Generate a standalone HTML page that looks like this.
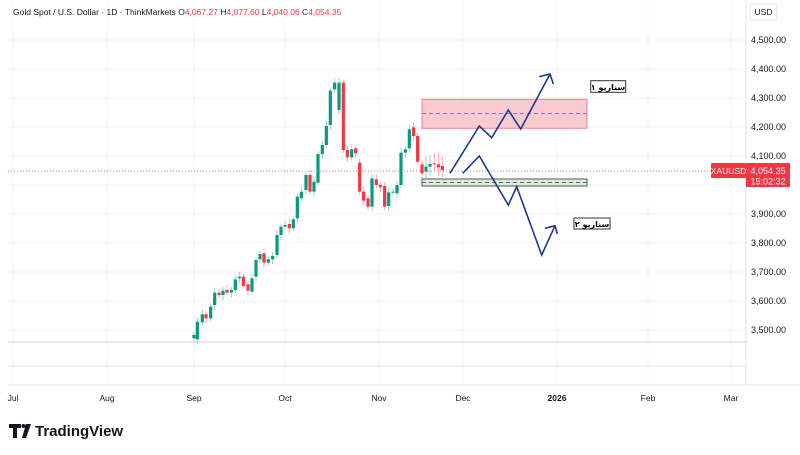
<!DOCTYPE html>
<html><head><meta charset="utf-8"><style>
body{margin:0;width:800px;height:450px;background:#fff;overflow:hidden;font-family:"Liberation Sans",sans-serif}
</style></head><body>
<svg id="s" width="800" height="450" xmlns="http://www.w3.org/2000/svg" font-family="Liberation Sans, DejaVu Sans, sans-serif">
<g stroke="#f0f3fa" stroke-width="1">
<line x1="13" y1="0" x2="13" y2="385"/><line x1="107" y1="0" x2="107" y2="385"/><line x1="194" y1="0" x2="194" y2="385"/><line x1="285" y1="0" x2="285" y2="385"/><line x1="379" y1="0" x2="379" y2="385"/><line x1="463" y1="0" x2="463" y2="385"/><line x1="557" y1="0" x2="557" y2="385"/><line x1="648" y1="0" x2="648" y2="385"/><line x1="731" y1="0" x2="731" y2="385"/>
<line x1="8" y1="40" x2="746" y2="40"/><line x1="8" y1="69" x2="746" y2="69"/><line x1="8" y1="98" x2="746" y2="98"/><line x1="8" y1="127" x2="746" y2="127"/><line x1="8" y1="156" x2="746" y2="156"/><line x1="8" y1="185" x2="746" y2="185"/><line x1="8" y1="214" x2="746" y2="214"/><line x1="8" y1="243" x2="746" y2="243"/><line x1="8" y1="272" x2="746" y2="272"/><line x1="8" y1="301" x2="746" y2="301"/><line x1="8" y1="330" x2="746" y2="330"/>
</g>
<line x1="8" y1="342" x2="746" y2="342" stroke="#d1d4dc"/>
<line x1="8" y1="366" x2="746" y2="366" stroke="#e0e3eb"/>
<line x1="746" y1="0" x2="746" y2="385" stroke="#e0e3eb"/>
<line x1="8" y1="385" x2="800" y2="385" stroke="#e0e3eb"/>
<line x1="8" y1="171" x2="746" y2="171" stroke="#f23645" stroke-dasharray="1,2" stroke-width="0.8"/>
<g id="c"></g>
<rect x="422" y="99.3" width="165" height="29" fill="#f7b9c2" fill-opacity="0.75" stroke="#f08090"/>
<line x1="422" y1="113.5" x2="587" y2="113.5" stroke="#9c6fc2" stroke-dasharray="4,3"/>
<rect x="422" y="179" width="165" height="7" fill="#dcefd8" stroke="#555"/>
<line x1="422" y1="182.5" x2="587" y2="182.5" stroke="#666" stroke-dasharray="4,3"/>
<g fill="none" stroke="#1a3a8f" stroke-width="1.6" stroke-linejoin="miter">
<polyline points="450,173.3 479.3,126 491.7,137.7 508.3,110 520.7,129 550,74"/>
<polyline points="539.3,76.7 550,74 553.3,84"/>
<polyline points="462.7,173.3 479.3,156 508.3,205 516.7,186.7 541.7,255 555,225.7"/>
<polyline points="545,228.3 555,225.7 557.3,234"/>
</g>
<rect x="590.7" y="80.7" width="35" height="11.6" fill="#fff" stroke="#333"/>
<text x="608" y="90" font-size="8" font-weight="bold" text-anchor="middle" font-family="DejaVu Sans, sans-serif">سناريو ١</text>
<rect x="574" y="218" width="36" height="11" fill="#fff" stroke="#333"/>
<text x="592" y="227" font-size="8" font-weight="bold" text-anchor="middle" font-family="DejaVu Sans, sans-serif">سناريو ٢</text>
<g font-size="9" fill="#131722" text-anchor="end">
<text x="786" y="43">4,500.00</text><text x="786" y="72">4,400.00</text><text x="786" y="101">4,300.00</text><text x="786" y="130">4,200.00</text><text x="786" y="159">4,100.00</text><text x="786" y="217">3,900.00</text><text x="786" y="246">3,800.00</text><text x="786" y="275">3,700.00</text><text x="786" y="304">3,600.00</text><text x="786" y="333">3,500.00</text>
</g>
<rect x="750" y="4" width="27" height="16" fill="#fff" stroke="#e0e3eb" rx="2"/>
<text x="763.5" y="15" font-size="8.5" text-anchor="middle" fill="#131722">USD</text>
<rect x="711" y="163" width="35" height="15" fill="#f23645" rx="1"/>
<text x="728.5" y="174" font-size="8.5" fill="#fff" text-anchor="middle">XAUUSD</text>
<rect x="746" y="163" width="44" height="24" fill="#f23645" rx="1"/>
<text x="768" y="174" font-size="9" fill="#fff" text-anchor="middle">4,054.35</text>
<text x="768" y="184.5" font-size="9" fill="#fff" text-anchor="middle">15:02:32</text>
<g font-size="8.5" fill="#131722" text-anchor="middle">
<text x="13" y="401">Jul</text><text x="107" y="401">Aug</text><text x="194" y="401">Sep</text><text x="285" y="401">Oct</text><text x="379" y="401">Nov</text><text x="463" y="401">Dec</text><text x="557" y="401" font-weight="bold">2026</text><text x="648" y="401">Feb</text><text x="731" y="401">Mar</text>
</g>
<text x="13" y="15" font-size="8.5" fill="#131722">Gold Spot / U.S. Dollar · 1D · ThinkMarkets <tspan>O</tspan><tspan fill="#f23645">4,067.27</tspan> H<tspan fill="#f23645">4,077.60</tspan> L<tspan fill="#f23645">4,040.06</tspan> C<tspan fill="#f23645">4,054.35</tspan></text>
<g fill="#131722">
<path d="M9 424h12v4h-4v10h-4v-10h-4z"/><circle cx="23.5" cy="426" r="2"/><path d="M26 424h5l-5 14h-4z"/>
</g>
<text x="35" y="436" font-size="15" font-weight="bold" fill="#131722">TradingView</text>
</svg>
<script>
var d=[[42,805,795],[52,808,755],[67,757,733],[78,733,745],[92,745,710],[104,705,668],[117,668,675],[129,675,662],[141,660,668],[154,668,660],[166,660,628],[178,625,620],[190,620,648],[204,643,662],[216,665,625],[228,620,570],[240,568,552],[252,550,578],[265,578,568],[278,568,558],[291,555,495],[303,495,470],[315,470,465],[328,462,475],[340,475,448],[352,445,380],[364,385,365],[378,360,315],[390,315,365],[402,365,335],[414,338,252],[427,252,225],[439,225,168],[451,165,62],[464,58,38],[477,120,38],[490,38,240],[502,240,262],[515,262,238],[527,235,250],[539,278,365],[551,365,392],[564,385,410],[576,410,325],[589,328,345],[601,345,352],[614,348,410],[626,408,367],[639,366,365],[651,370,345],[663,345,248],[676,248,238],[688,235,178],[701,172,198],[713,198,275],[726,283,310],[738,305,290],[750,290,282],[763,280,283],[775,283,292],[787,288,300]];
var g=document.getElementById('c'),h='';
d.forEach(function(a,i){var x=180+a[0]/3,o=70+a[1]/3,c=70+a[2]/3,up=c<o,col=up?'#089981':'#f23645';
var t=Math.min(o,c)-3-(i%3),b=Math.max(o,c)+3+(i%2)*2;if(i>=56){t-=6;b+=4}
var wc=up?'#7fcbb9':'#f7939c';
h+='<line x1="'+x+'" y1="'+t+'" x2="'+x+'" y2="'+b+'" stroke="'+wc+'" stroke-width="0.8"/>';
h+='<rect x="'+(x-1.6)+'" y="'+Math.min(o,c)+'" width="3.2" height="'+Math.max(1,Math.abs(o-c))+'" fill="'+col+'"/>';});
g.innerHTML=h;
</script>
</body></html>
